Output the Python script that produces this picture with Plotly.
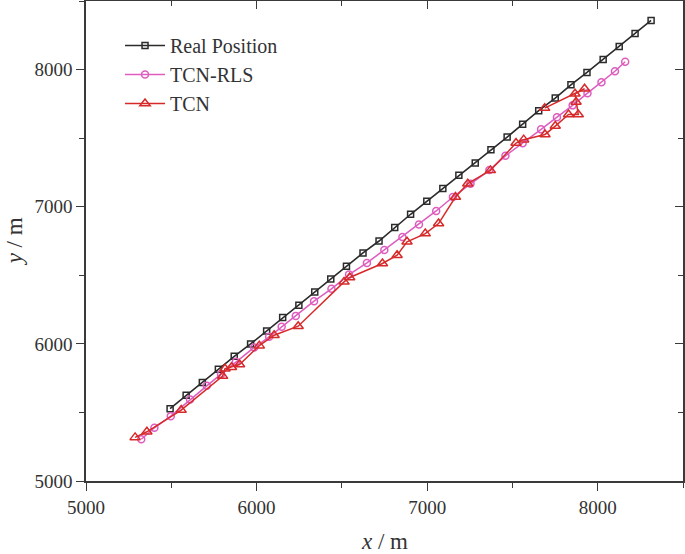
import plotly.graph_objects as go

# Real Position
real_x = [5493, 5587, 5682, 5776, 5869, 5965, 6059, 6153, 6248, 6341, 6435, 6527, 6624, 6718, 6810,
          6903, 6998, 7092, 7186, 7282, 7374, 7469, 7560, 7654, 7751, 7843, 7937, 8032, 8126, 8219, 8313]
real_y = [5527, 5626, 5719, 5814, 5909, 5999, 6094, 6192, 6282, 6379, 6473, 6566, 6663, 6750, 6848,
          6945, 7039, 7132, 7229, 7318, 7416, 7508, 7602, 7700, 7792, 7889, 7979, 8074, 8168, 8263, 8358]

# TCN-RLS
rls_x = [5324, 5401, 5497, 5610, 5708, 5792, 5879, 5986, 6074, 6147, 6230, 6337, 6439, 6542, 6647, 6749,
         6855, 6952, 7053, 7151, 7254, 7365, 7459, 7560, 7668, 7761, 7853, 7940, 8022, 8101, 8161]
rls_y = [5304, 5388, 5473, 5595, 5694, 5779, 5869, 5974, 6051, 6124, 6204, 6311, 6401, 6505, 6590, 6685,
         6779, 6870, 6969, 7071, 7168, 7267, 7371, 7463, 7564, 7653, 7739, 7828, 7908, 7988, 8057]

# TCN
tcn_x = [5288, 5357, 5558, 5801, 5815, 5853, 5900, 6016, 6103, 6244, 6513, 6546, 6738, 6824, 6882,
         6989, 7067, 7166, 7238, 7371, 7521, 7566, 7691, 7751, 7829, 7886, 7873, 7867, 7923, 7689]
tcn_y = [5318, 5359, 5517, 5765, 5819, 5830, 5849, 5987, 6063, 6129, 6452, 6484, 6586, 6646, 6744,
         6804, 6877, 7071, 7168, 7265, 7464, 7489, 7527, 7588, 7673, 7673, 7763, 7824, 7860, 7719]

x_range = [5000, 8500]
y_range = [5000, 8500]
tick_vals = [5000, 6000, 7000, 8000]
tick_text = ["5000", "6000", "7000", "8000"]

FONT = "Liberation Serif, Times New Roman, serif"
AX = "#3a3a3a"

fig = go.Figure()
fig.add_trace(go.Scatter(x=real_x, y=real_y, mode="lines+markers", name="Real Position",
                         line=dict(color="#2b2b2b", width=1.6),
                         marker=dict(symbol="square-open", size=6, color="#2b2b2b", line=dict(width=1.5))))
fig.add_trace(go.Scatter(x=rls_x, y=rls_y, mode="lines+markers", name="TCN-RLS",
                         line=dict(color="#DD5CBE", width=1.5),
                         marker=dict(symbol="circle-open", size=7, color="#DD5CBE", line=dict(width=1.5))))
fig.add_trace(go.Scatter(x=tcn_x, y=tcn_y, mode="lines+markers", name="TCN",
                         line=dict(color="#D62A2A", width=1.5),
                         marker=dict(symbol="triangle-up-open", size=9, color="#D62A2A", line=dict(width=1.5))))
# dummy trace for mirrored top/right axes
fig.add_trace(go.Scatter(x=[None], y=[None], xaxis="x2", yaxis="y2", showlegend=False, hoverinfo="skip"))

common = dict(showgrid=False, zeroline=False, showline=True, linecolor=AX, linewidth=1.6,
              tickcolor=AX, tickwidth=1.4, automargin=False)

fig.update_layout(
    width=685, height=554,
    margin=dict(l=86, r=2, t=1, b=73, autoexpand=False),
    paper_bgcolor="white", plot_bgcolor="white",
    font=dict(family=FONT, size=19, color="#333333"),
    xaxis=dict(range=x_range, tickmode="array", tickvals=tick_vals, ticktext=tick_text,
               ticks="outside", ticklen=8,
               minor=dict(dtick=500, tick0=5000, ticks="outside", ticklen=5, tickcolor=AX, tickwidth=1.4),
               tickfont=dict(size=19), **common),
    yaxis=dict(range=y_range, tickmode="array", tickvals=tick_vals, ticktext=tick_text,
               ticks="outside", ticklen=8,
               minor=dict(dtick=500, tick0=5000, ticks="outside", ticklen=5, tickcolor=AX, tickwidth=1.4),
               tickfont=dict(size=19), **common),
    xaxis2=dict(range=x_range, overlaying="x", side="top", anchor="y2", tickmode="array",
                tickvals=tick_vals, ticks="inside", ticklen=8, showticklabels=False,
                minor=dict(dtick=500, tick0=5000, ticks="inside", ticklen=5, tickcolor=AX, tickwidth=1.4),
                **common),
    yaxis2=dict(range=y_range, overlaying="y", side="right", anchor="x2", tickmode="array",
                tickvals=tick_vals, ticks="inside", ticklen=8, showticklabels=False,
                minor=dict(dtick=500, tick0=5000, ticks="inside", ticklen=5, tickcolor=AX, tickwidth=1.4),
                **common),
    legend=dict(x=0.057, y=0.948, xanchor="left", yanchor="top", bgcolor="rgba(0,0,0,0)",
                font=dict(size=20, family=FONT, color="#333333"), tracegroupgap=0, itemwidth=40),
    showlegend=True,
    annotations=[
        dict(text="<i>x</i> / m", xref="paper", yref="paper", x=0.5, y=-0.125, xanchor="center",
             yanchor="middle", showarrow=False, font=dict(size=23, family=FONT, color="#333333")),
        dict(text="<i>y</i> / m", xref="paper", yref="paper", x=-0.12, y=0.5, xanchor="center",
             yanchor="middle", textangle=-90, showarrow=False, font=dict(size=23, family=FONT, color="#333333")),
    ],
)

fig.write_html("out.html", config={"displayModeBar": False},
               post_script="document.body.style.margin='0';document.body.style.padding='0';")
